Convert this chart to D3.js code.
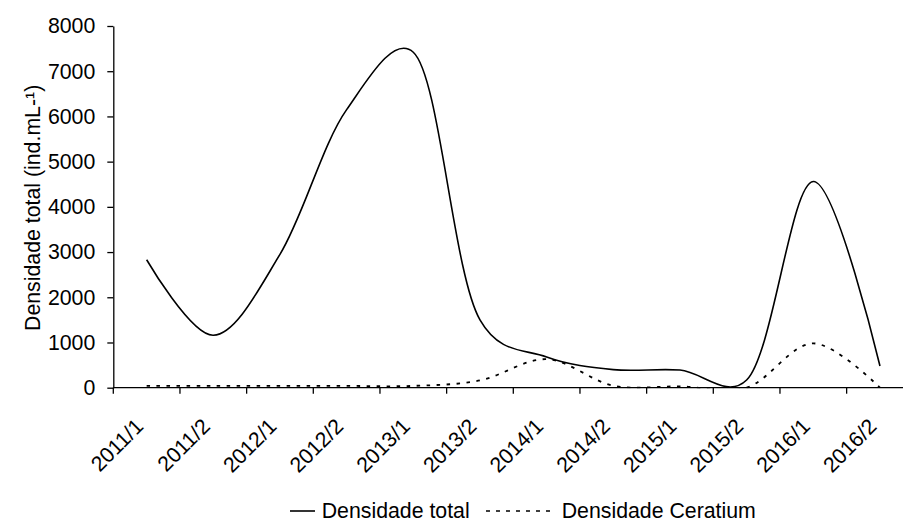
<!DOCTYPE html>
<html>
<head>
<meta charset="utf-8">
<script src="https://cdn.jsdelivr.net/npm/d3@7"></script>
<style>
  html, body { margin: 0; padding: 0; background: #fff; }
  svg { display: block; font-family: "Liberation Sans", Arial, sans-serif; }
</style>
</head>
<body>
<svg id="chart" width="903" height="522"></svg>
<script>
// semesters on the x axis
var periods = ["2011/1", "2011/2", "2012/1", "2012/2", "2013/1", "2013/2",
               "2014/1", "2014/2", "2015/1", "2015/2", "2016/1", "2016/2"];
// ind.mL-1
var densTotal    = [2830, 1160, 2950, 6150, 7420, 1500, 680, 400, 390, 170, 4560, 480];
var densCeratium = [40, 40, 40, 40, 40, 160, 630, 45, 30, 0, 980, 0];
var yTicks = [0, 1000, 2000, 3000, 4000, 5000, 6000, 7000, 8000];
var seriesNames = ["Densidade total", "Densidade Ceratium"];

var svg = d3.select("#chart");
var fontSize = "21.3px";

var margins = { left: 113.3, top: 26, bottom: 387.7 };

// x: one band per semester, ticks sit on the band edges
var x = d3.scaleBand().domain(periods).range([margins.left, 913.3]).padding(0);
var y = d3.scaleLinear().domain([0, 8000]).range([margins.bottom, margins.top]);
var cx = d => x(d) + x.bandwidth() / 2;

// clip so the smoothed curves don't go under the axis
svg.append("clipPath").attr("id", "plotclip")
  .append("rect")
    .attr("x", margins.left)
    .attr("y", margins.top - 5)
    .attr("width", 800)
    .attr("height", margins.bottom - margins.top + 5.5);

// y axis
var yAxis = svg.append("g")
  .attr("transform", "translate(" + margins.left + ",0)")
  .call(d3.axisLeft(y).tickValues(yTicks).tickFormat(d3.format("d"))
          .tickSize(6).tickPadding(12).tickSizeOuter(0));
yAxis.select(".domain").attr("stroke", "#000").attr("stroke-width", 1.3);
yAxis.selectAll(".tick line").attr("stroke", "#000").attr("stroke-width", 1.3);
yAxis.selectAll(".tick text")
  .attr("fill", "#000")
  .style("font-size", fontSize)
  .style("font-family", "'Liberation Sans', Arial, sans-serif");

// x axis line
svg.append("line")
  .attr("x1", margins.left).attr("x2", 913.3)
  .attr("y1", margins.bottom).attr("y2", margins.bottom)
  .attr("stroke", "#000").attr("stroke-width", 1.3);

// tick marks on band edges
var edges = periods.map(p => x(p)).concat([x(periods[periods.length - 1]) + x.bandwidth()]);
svg.append("g").selectAll("line")
  .data(edges)
  .join("line")
    .attr("x1", d => d).attr("x2", d => d)
    .attr("y1", margins.bottom).attr("y2", margins.bottom + 6)
    .attr("stroke", "#000").attr("stroke-width", 1.3);

// rotated category labels
svg.append("g").selectAll("text")
  .data(periods)
  .join("text")
    .attr("transform", d => "translate(" + (cx(d) - 2) + "," + (margins.bottom + 40) + ") rotate(-45)")
    .attr("text-anchor", "end")
    .style("font-size", fontSize)
    .attr("fill", "#000")
    .text(d => d);

// y axis title
svg.append("text")
  .attr("transform", "translate(40," + ((margins.top + margins.bottom) / 2 + 1) + ") rotate(-90)")
  .attr("text-anchor", "middle")
  .style("font-size", fontSize)
  .attr("fill", "#000")
  .text("Densidade total (ind.mL-¹)");

// lines (excel-like smoothing)
var line = d3.line()
  .x((d, i) => cx(periods[i]))
  .y(d => y(d))
  .curve(d3.curveCatmullRom.alpha(0.25));

var plot = svg.append("g").attr("clip-path", "url(#plotclip)");

plot.append("path")
  .datum(densCeratium)
  .attr("d", line)
  .attr("fill", "none")
  .attr("stroke", "#000")
  .attr("stroke-width", 1.8)
  .attr("stroke-dasharray", "3.5,6.5");

plot.append("path")
  .datum(densTotal)
  .attr("d", line)
  .attr("fill", "none")
  .attr("stroke", "#000")
  .attr("stroke-width", 1.6);

// legend
var legend = svg.append("g");
legend.append("line")
  .attr("x1", 290).attr("x2", 315).attr("y1", 511).attr("y2", 511)
  .attr("stroke", "#000").attr("stroke-width", 1.6);
legend.append("text")
  .attr("x", 321.7).attr("y", 518)
  .style("font-size", fontSize).attr("fill", "#000")
  .text(seriesNames[0]);
legend.append("line")
  .attr("x1", 486).attr("x2", 554).attr("y1", 511).attr("y2", 511)
  .attr("stroke", "#000").attr("stroke-width", 1.6)
  .attr("stroke-dasharray", "4,6");
legend.append("text")
  .attr("x", 561.7).attr("y", 518)
  .style("font-size", fontSize).attr("fill", "#000")
  .text(seriesNames[1]);
</script>
</body>
</html>
